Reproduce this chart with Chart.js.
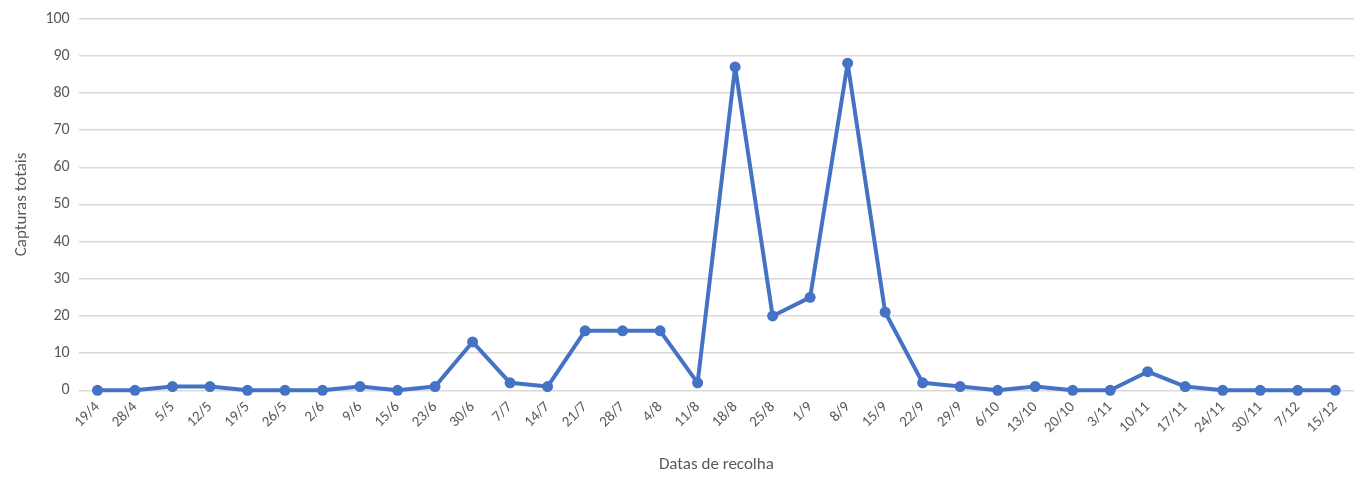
<!DOCTYPE html>
<html>
<head>
<meta charset="utf-8">
<script src="https://cdn.jsdelivr.net/npm/chart.js@4"></script>
<style>
  html, body { margin: 0; padding: 0; background: #fff; }
  #wrap { width: 1364px; height: 479px; position: relative; }
</style>
</head>
<body>
<div id="wrap"><canvas id="capturasChart"></canvas></div>
<script>
var datas = ['19/4', '28/4', '5/5', '12/5', '19/5', '26/5', '2/6', '9/6', '15/6', '23/6',
    '30/6', '7/7', '14/7', '21/7', '28/7', '4/8', '11/8', '18/8', '25/8', '1/9',
    '8/9', '15/9', '22/9', '29/9', '6/10', '13/10', '20/10', '3/11', '10/11', '17/11',
    '24/11', '30/11', '7/12', '15/12'];
var capturas = [0, 0, 1, 1, 0, 0, 0, 1, 0, 1,
    13, 2, 1, 16, 16, 16, 2, 87, 20, 25,
    88, 21, 2, 1, 0, 1, 0, 0, 5, 1,
    0, 0, 0, 0];
var yMin = 0, yMax = 100, yStep = 10;

var fontFamily = "Carlito, 'Liberation Sans', 'Open Sans', sans-serif";
var textColor = '#595959';
var gridColor = '#d9d9d9';

var ctx = document.getElementById('capturasChart').getContext('2d');
var capturasChart = new Chart(ctx, {
    type: 'line',
    data: {
        labels: datas,
        datasets: [
            {
                label: 'Capturas totais',
                data: capturas,
                borderColor: '#4472C4',
                backgroundColor: '#4472C4',
                borderWidth: 4,
                borderJoinStyle: 'round',
                pointRadius: 5.5,
                pointHoverRadius: 5.5,
                pointBorderWidth: 0,
                tension: 0,
                clip: false
            }
        ]
    },
    options: {
        responsive: true,
        maintainAspectRatio: false,
        animation: false,
        layout: { padding: { left: 12, right: 10, top: -8, bottom: 4 } },
        plugins: {
            legend: { display: false },
            tooltip: { enabled: false }
        },
        scales: {
            x: {
                offset: true,
                grid: { display: false, drawTicks: false },
                border: { display: false },
                ticks: {
                    color: textColor,
                    font: { family: fontFamily, size: 15 },
                    minRotation: 45,
                    maxRotation: 45,
                    autoSkip: false,
                    padding: 8
                },
                title: {
                    display: true,
                    text: 'Datas de recolha',
                    color: textColor,
                    font: { family: fontFamily, size: 17 },
                    padding: { top: 10, bottom: 0 }
                }
            },
            y: {
                min: yMin,
                max: yMax,
                grid: { color: gridColor, lineWidth: 1.5, drawTicks: false },
                border: { display: false },
                ticks: {
                    stepSize: yStep,
                    color: textColor,
                    font: { family: fontFamily, size: 16 },
                    padding: 9
                },
                title: {
                    display: true,
                    text: 'Capturas totais',
                    color: textColor,
                    font: { family: fontFamily, size: 17 },
                    padding: { top: 0, bottom: 4 }
                }
            }
        }
    }
});
</script>
</body>
</html>
